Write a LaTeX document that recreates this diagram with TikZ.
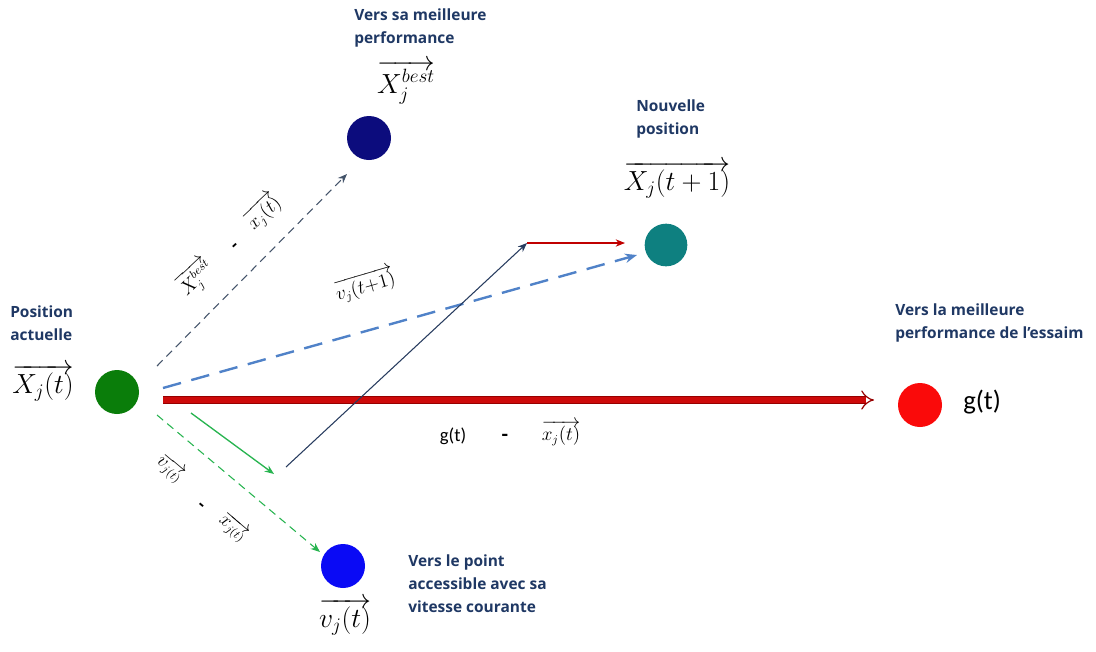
\documentclass[tikz,border=0pt]{standalone}
\usepackage{fontspec}
\usetikzlibrary{arrows.meta,calc}
\newfontfamily\lblfont{Open Sans}
\newfontfamily\calfont{Carlito}
\definecolor{txtnavy}{RGB}{31,56,100}
\definecolor{cnavy}{RGB}{12,12,125}
\definecolor{cteal}{RGB}{14,128,128}
\definecolor{cgreen}{RGB}{10,125,10}
\definecolor{cblue}{RGB}{10,10,245}
\definecolor{cred}{RGB}{250,10,10}
\definecolor{lslate}{RGB}{68,84,106}
\definecolor{lblue}{RGB}{80,130,200}
\definecolor{lgreen}{RGB}{40,180,80}
\definecolor{lnavy}{RGB}{40,60,95}
\definecolor{lred}{RGB}{192,0,0}
\definecolor{bred}{RGB}{205,10,10}
\definecolor{bdark}{RGB}{150,0,0}
\tikzset{
  dot/.style={circle, minimum size=#1, inner sep=0pt},
  caption/.style={anchor=west, align=left, inner sep=0pt, text=txtnavy,
    font=\lblfont\bfseries\fontsize{11.6}{17.3}\selectfont},
  bigmath/.style={inner sep=0pt, font=\fontsize{21}{25}\selectfont},
  smallmath/.style={inner sep=0pt, font=\fontsize{13.5}{16}\selectfont},
  tipS/.style={-{Stealth[length=7pt,width=5.5pt]}},
}
\begin{document}
\begin{tikzpicture}[x=0.75pt,y=-0.75pt]
\useasboundingbox (0,0) rectangle (1096,651);
% circles
\node[dot=33pt, fill=cgreen] (g) at (117,392) {};
\node[dot=33pt, fill=cnavy] (nb) at (369,138) {};
\node[dot=32pt, fill=cteal] (nt) at (666,245) {};
\node[dot=33pt, fill=cred] (nr) at (920,405) {};
\node[dot=33pt, fill=cblue] (nv) at (343,566) {};
% captions
\node[caption] (c1) at (10,323) {Position\\actuelle};
\node[caption] (c2) at (354,28) {Vers sa meilleure\\performance};
\node[caption] (c3) at (636,119) {Nouvelle\\position};
\node[caption] (c4) at (895,323) {Vers la meilleure\\performance de l’essaim};
\node[caption] (c5) at (408,584) {Vers le point\\accessible avec sa\\vitesse courante};
% big math labels
\node[bigmath] (m1) at (43,383) {$\overrightarrow{X_j(t)}$};
\node[bigmath] (m2) at (406,82) {$\overrightarrow{X_j^{best}}$};
\node[bigmath] (m3) at (677,180) {$\overrightarrow{X_j(t+1)}$};
\node[bigmath] (m4) at (345,617) {$\overrightarrow{v_j(t)}$};
\node[anchor=west, inner sep=0pt, font=\calfont\fontsize{20}{24}\selectfont] (m5) at (963,402) {g(t)};
% coordinates for free ends
\coordinate (vtip) at (274,474);
\coordinate (vstart) at (286,467);
\coordinate (top) at (527,243);
% connectors
\draw[lslate, line width=0.8pt, dash pattern=on 6pt off 4pt, tipS]
  ([shift={(40,-26)}]g.center) -- ([shift={(-22,36)}]nb.center);
\draw[lblue, line width=1.8pt, dash pattern=on 14pt off 8pt, -{Stealth[length=9pt,width=7pt]}]
  ([shift={(46,-4)}]g.center) -- ([shift={(-29,10)}]nt.center);
\draw[draw=bdark, double=bred, double distance=4.2pt, line width=0.9pt, -{Implies}]
  ([shift={(46,8)}]g.center) -- ([shift={(-46,-5)}]nr.center);
\draw[lgreen, line width=1pt, tipS]
  ([shift={(74,21)}]g.center) -- (vtip);
\draw[lgreen, line width=0.8pt, dash pattern=on 6pt off 4pt, tipS]
  ([shift={(40,23)}]g.center) -- ([shift={(-23,-14)}]nv.center);
\draw[lnavy, line width=0.8pt, tipS] (vstart) -- (top);
\draw[lred, line width=0.9pt, tipS] (top) -- ([shift={(-41,-2)}]nt.center);
% small labels
\node[smallmath, rotate=43] (s1) at (196,278) {$\overrightarrow{X_j^{best}}$};
\node[inner sep=0pt, rotate=43, font=\calfont\bfseries\fontsize{14}{16}\selectfont] (s2) at (236,247) {-};
\node[smallmath, rotate=43] (s3) at (263,212) {$\overrightarrow{x_j(t)}$};
\node[smallmath, rotate=16] (s4) at (365,285) {$\overrightarrow{v_j(t{+}1)}$};
\node[smallmath, rotate=-40] (s5) at (170,469) {$\overrightarrow{v_{j(t)}}$};
\node[inner sep=0pt, rotate=-40, font=\calfont\bfseries\fontsize{14}{16}\selectfont] (s6) at (200,507) {-};
\node[smallmath, rotate=-40] (s7) at (233,528) {$\overrightarrow{x_{j(t)}}$};
\node[inner sep=0pt, font=\calfont\fontsize{14}{16}\selectfont] (s8) at (453,436) {g(t)};
\node[inner sep=0pt, font=\calfont\bfseries\fontsize{16}{18}\selectfont] (s9) at (505,438) {-};
\node[smallmath] (s10) at (561,433) {$\overrightarrow{x_j(t)}$};
\end{tikzpicture}
\end{document}
